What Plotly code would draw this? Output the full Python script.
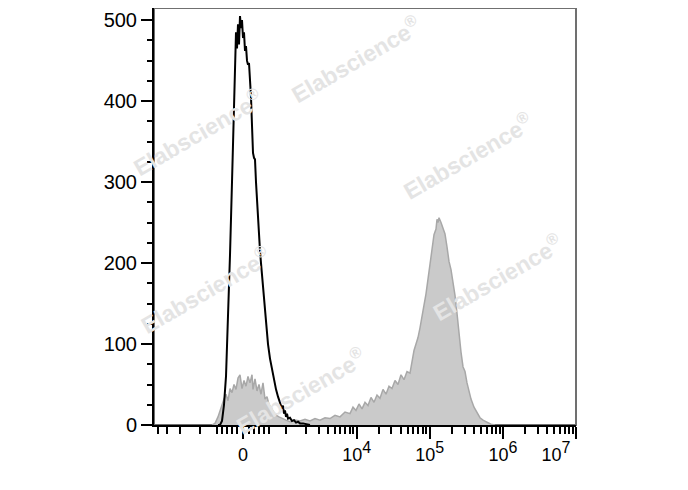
import numpy as np
import plotly.graph_objects as go

# ---- display scale (biexponential-like, arcsinh) ----
W = 560.0            # linearisation width
CH_ZERO = 178.0      # display channel of value 0
CH_PER_DECADE = 146.28

def to_channel(v):
    v = np.asarray(v, dtype=float)
    return CH_ZERO + CH_PER_DECADE * np.arcsinh(v / W) / np.log(10)

# ---- data: display channel vs. event count ----
black_ch = [128, 132, 136, 140, 144, 148, 152, 156, 160, 162, 164, 166, 168, 170, 172, 174,
            176, 178, 180, 182, 184, 186, 188, 190, 192, 194, 196, 198, 200, 202, 204, 206,
            208, 210, 212, 214, 216, 218, 220, 222, 224, 226, 228, 232, 236, 240, 244, 248,
            252, 256, 258, 260, 262, 264, 266, 268, 272, 276, 280, 284, 288, 292, 298, 304, 312]
black_count = [0, 0, 5, 25, 60, 130, 210, 300, 400, 450, 485, 465, 495, 470, 505, 490,
               500, 478, 485, 462, 468, 450, 445, 447, 430, 405, 370, 336, 330, 328, 300, 275,
               250, 235, 215, 200, 185, 168, 150, 135, 122, 110, 100, 82, 68, 55, 44, 35,
               27, 20, 24, 14, 18, 10, 14, 8, 9, 5, 6, 3, 4, 2, 2, 1, 0]

gray_ch = [116, 122, 128, 134, 140, 144, 148, 152, 156, 160, 164, 168, 172, 176, 180, 184,
           188, 192, 196, 198, 202, 206, 210, 214, 218, 222, 226, 230, 234, 238, 244, 250,
           256, 264, 272, 282, 292, 302, 312, 322, 332, 342, 352, 362, 372, 382, 392, 398,
           404, 410, 416, 422, 428, 434, 440, 446, 452, 458, 464, 470, 476, 482, 488, 494,
           500, 506, 512, 516, 520, 524, 528, 532, 536, 540, 544, 548, 552, 556, 560, 564,
           566, 568, 570, 574, 578, 582, 586, 590, 594, 598, 602, 606, 610, 614, 618, 622,
           626, 630, 634, 640, 646, 652, 658, 666, 674, 682]
gray_count = [0, 2, 10, 22, 32, 38, 30, 45, 40, 50, 44, 58, 62, 45, 55, 48,
              60, 52, 62, 44, 57, 42, 50, 38, 52, 32, 35, 25, 22, 17, 12, 10,
              8, 6, 4, 6, 5, 7, 5, 8, 6, 9, 8, 12, 10, 16, 14, 22,
              18, 26, 20, 28, 24, 34, 28, 37, 33, 44, 38, 48, 45, 55, 50, 62,
              56, 66, 64, 78, 92, 100, 108, 120, 132, 148, 162, 180, 198, 218, 235, 242,
              254, 250, 256, 250, 244, 236, 220, 202, 192, 178, 160, 138, 110, 90, 72, 66,
              52, 40, 32, 22, 15, 9, 6, 3, 1, 0]

# ---- axis ticks (values in data units) ----
x_major_vals = [0, 1e4, 1e5, 1e6, 1e7]
sup = "10<sup><span style='font-size:16px'>%d</span></sup>"
x_major_text = ["0", sup % 4, sup % 5, sup % 6, sup % 7 + "\u00a0" * 8]
x_minor_vals = ([-4000, -3000, -2000, -1000, -500, -400, -300, -200, -100,
                 100, 200, 300, 400, 500]
                + [1000, 2000, 3000, 4000, 5000, 6000, 7000, 8000, 9000]
                + [m * 1e4 for m in range(2, 10)]
                + [m * 1e5 for m in range(2, 10)]
                + [m * 1e6 for m in range(2, 10)])
y_major_vals = [0, 100, 200, 300, 400, 500]

FONT = "Arial, Liberation Sans, sans-serif"

fig = go.Figure()
fig.add_trace(go.Scatter(x=gray_ch, y=gray_count, mode="lines", fill="tozeroy",
                         fillcolor="#cacaca", line=dict(color="#a8a8a8", width=1.5),
                         showlegend=False, hoverinfo="skip"))
fig.add_trace(go.Scatter(x=black_ch, y=black_count, mode="lines",
                         line=dict(color="black", width=2),
                         showlegend=False, hoverinfo="skip"))

# plot frame (top/right grey)
fig.add_shape(type="rect", xref="x domain", yref="y domain", x0=0, x1=1, y0=0, y1=1,
              line=dict(color="#707070", width=2), layer="below")

# watermarks
wm = [(0.104, 0.703), (0.478, 0.878), (0.742, 0.646), (0.121, 0.323), (0.814, 0.354), (0.346, 0.082)]
for (px, py) in wm:
    fig.add_annotation(x=px, y=py, xref="paper", yref="paper", text="Elabscience<sup>®</sup>",
                       showarrow=False, textangle=-30, xanchor="center", yanchor="middle",
                       font=dict(family=FONT, size=23, color="#e4e4e4", weight="bold"))

fig.update_layout(
    width=688, height=490,
    margin=dict(l=146, r=120, t=0, b=73),
    paper_bgcolor="white", plot_bgcolor="white",
    font=dict(family=FONT, color="black"),
)
fig.update_xaxes(
    range=[0, float(to_channel(1e7))],
    showline=True, linecolor="black", linewidth=2,
    showgrid=False, zeroline=False,
    tickmode="array", tickvals=to_channel(x_major_vals).tolist(), ticktext=x_major_text,
    ticks="outside", ticklen=12, tickwidth=2, tickcolor="black",
    tickfont=dict(family=FONT, size=18, color="black"),
    ticklabelstandoff=0,
    minor=dict(tickmode="array", tickvals=to_channel(x_minor_vals).tolist(),
               ticks="outside", ticklen=7, tickwidth=1.5, tickcolor="black"),
)
fig.update_yaxes(
    range=[0, 515],
    showline=True, linecolor="black", linewidth=2,
    showgrid=False, zeroline=False,
    tickmode="array", tickvals=y_major_vals,
    ticks="outside", ticklen=11, tickwidth=2, tickcolor="black",
    tickfont=dict(family=FONT, size=20, color="black"),
    minor=dict(dtick=25, ticks="outside", ticklen=5, tickwidth=1.5, tickcolor="black"),
)

fig.write_html("out.html")
